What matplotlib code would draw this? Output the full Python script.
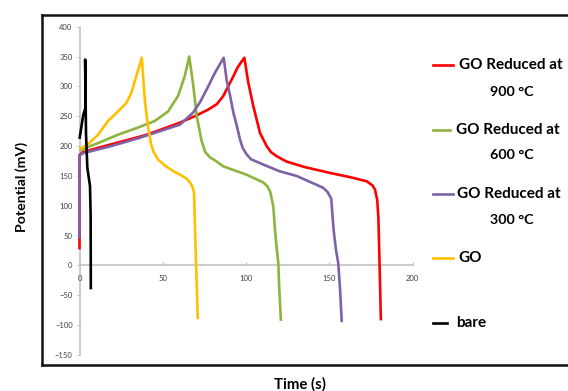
import matplotlib
matplotlib.use("Agg")
import matplotlib.pyplot as plt
from matplotlib.lines import Line2D

plt.rcParams['font.family'] = ['Lato', 'DejaVu Sans']

# ---- data ----
red_t = [0, 0, 2, 19.1, 39.2, 59.2, 69.2, 77.2, 82.4, 86.4, 88.4, 92.4, 95, 99, 101.4, 104.4, 108.4,
         112.4, 115, 118.4, 124.4, 135, 150.5, 162.5, 172.5, 176, 177.5, 178.8, 179.5, 180, 180.5, 181]
red_v = [27, 185, 190, 203, 218, 238, 250, 261, 270, 284, 295, 317, 332, 348, 306, 267, 222,
         200, 190, 183, 174, 165, 155, 148, 141, 134, 127, 110, 80, 27, -30, -92]

green_t = [0, 11.1, 23.1, 35.1, 45.2, 53.2, 59.2, 63.2, 65.9, 68.4, 70.4, 73.4, 75.5, 78.4, 81.4,
           86.4, 100.4, 110.4, 113, 114.6, 116.4, 117.4, 118.5, 119.4, 120, 121]
green_v = [193, 205, 219, 231, 242, 258, 284, 317, 350, 300, 250, 208, 190, 181, 176,
           166, 152, 139, 132, 123, 99, 60, 27, 4, -40, -93]

purple_t = [0, 0, 2, 19.1, 36.3, 48.3, 60.4, 68.2, 72.5, 76.4, 81.4, 86.6, 88.4, 90.4, 92.5, 94.4,
            96.4, 98, 100.4, 103, 110.4, 120, 130.4, 138.4, 142.5, 146.4, 149, 151.2, 152.6, 154,
            155.4, 156.5, 157.5]
purple_v = [45, 184, 188, 200, 214, 225, 236, 256, 274, 295, 323, 348, 310, 285, 255, 235,
            211, 197, 186, 178, 169, 158, 150, 140, 135, 130, 123, 112, 60, 27,
            4, -40, -95]

go_t = [0, 5.1, 11.1, 17.1, 23.1, 28.1, 31.1, 34.1, 37.4, 39.3, 41.2, 43, 44.5, 47.3, 52, 56.3,
        60.4, 64, 66.4, 67.8, 68.8, 69.4, 70, 70.5, 71]
go_v = [195, 203, 219, 242, 258, 272, 289, 317, 348, 275, 232, 203, 190, 177, 166, 158,
        152, 146, 139, 132, 122, 60, 5, -40, -90]

bare_t = [0, 2.3, 3.6, 3.4, 3.9, 4.7, 6.3, 6.7, 6.8]
bare_v = [212, 253, 264, 345, 222, 164, 133, 83, -40]

xticks = [0, 50, 100, 150, 200]
yticks = [-150, -100, -50, 0, 50, 100, 150, 200, 250, 300, 350, 400]

labels = ["GO Reduced at\n900 °C", "GO Reduced at\n600 °C", "GO Reduced at\n300 °C", "GO", "bare"]
colors = ["#FF0000", "#8DB43E", "#7E62A8", "#FFC000", "#000000"]

W, H = 568, 391
fig = plt.figure(figsize=(W / 100, H / 100), dpi=100)

# axes placement in pixels
x0, x1 = 79.5, 412.5
y_top, y_bot = 26.7, 355.0
ax = fig.add_axes([x0 / W, 1 - y_bot / H, (x1 - x0) / W, (y_bot - y_top) / H])
ax.set_xlim(0, 200)
ax.set_ylim(-150, 400)

series = [(red_t, red_v), (green_t, green_v), (purple_t, purple_v), (go_t, go_v), (bare_t, bare_v)]
for (t, v), c in zip(series, colors):
    ax.plot(t, v, color=c, lw=1.9, solid_joinstyle='round', solid_capstyle='butt', clip_on=False)

for s in ['top', 'right']:
    ax.spines[s].set_visible(False)
ax.spines['left'].set_position(('data', 0))
ax.spines['bottom'].set_position(('data', 0))
for s in ['left', 'bottom']:
    ax.spines[s].set_color('#BFBFBF')
    ax.spines[s].set_linewidth(1.1)
    ax.spines[s].set_zorder(0.5)

ax.set_xticks(xticks)
ax.set_yticks(yticks)
ax.tick_params(axis='x', direction='in', length=2, width=0.8, color='#BFBFBF', pad=7,
               labelsize=5.5, labelcolor='#404040')
ax.tick_params(axis='y', direction='out', length=2, width=0.8, color='#BFBFBF', pad=3,
               labelsize=5.5, labelcolor='#404040')
ax.patch.set_visible(False)

# axis labels
fig.text(22 / W, 1 - 187 / H, "Potential (mV)", rotation=90, ha='center', va='center',
         fontsize=10.2, fontweight='bold', color='#000000')
fig.text(299.5 / W, 1 - 384 / H, "Time (s)", ha='center', va='center',
         fontsize=10.8, fontweight='bold', color='#000000')

# frame
fl, ft, fb = 42 / W, 1 - 15 / H, 1 - 365 / H
fig.add_artist(Line2D([fl, 1.01], [ft, ft], transform=fig.transFigure, color='#111111', lw=1.8))
fig.add_artist(Line2D([fl, 1.01], [fb, fb], transform=fig.transFigure, color='#111111', lw=1.8))
fig.add_artist(Line2D([fl, fl], [fb, ft], transform=fig.transFigure, color='#111111', lw=1.8))

# legend (manual)
leg_y = [65, 129.5, 194, 258, 323]
line_x = [(433, 453), (433, 450), (433, 453), (433, 453), (433, 447)]
text_x = [459, 456, 457, 458, 456]
sub_y = [92, 155, 220]
for i, (lab, c) in enumerate(zip(labels, colors)):
    xa, xb = line_x[i]
    yy = 1 - leg_y[i] / H
    fig.add_artist(Line2D([xa / W, xb / W], [yy, yy], transform=fig.transFigure, color=c, lw=1.9))
    parts = lab.split("\n")
    fig.text(text_x[i] / W, yy, parts[0], ha='left', va='center', fontsize=11,
             fontweight='bold', color='#000000')
    if len(parts) > 1:
        fig.text(512 / W, 1 - sub_y[i] / H, parts[1], ha='center', va='center', fontsize=10.3,
                 fontweight='bold', color='#000000')

fig.savefig("out.png", dpi=100)
